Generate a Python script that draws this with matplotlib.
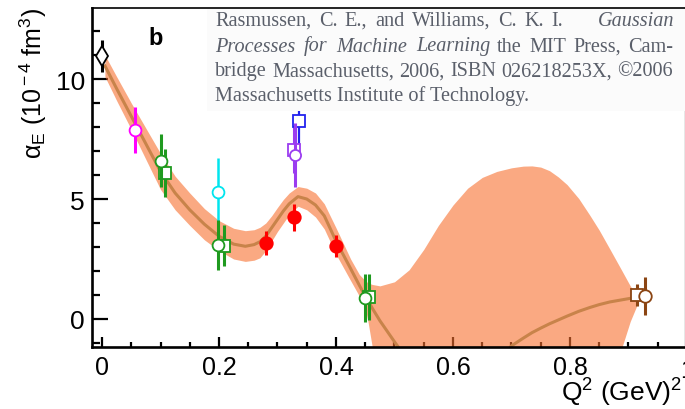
"""
alpha_E(Q^2) 그림 재현 — GP 밴드 + 측정점
"""
import matplotlib
matplotlib.use("Agg")
import matplotlib.pyplot as plt
from matplotlib.patches import Rectangle

plt.rcParams["font.family"] = ["Liberation Sans", "DejaVu Sans"]
plt.rcParams["mathtext.fontset"] = "custom"
plt.rcParams["mathtext.rm"] = "Liberation Sans"
plt.rcParams["mathtext.it"] = "Liberation Sans:italic"

# GP 곡선
q = [0.005, 0.025, 0.05, 0.075, 0.1, 0.125, 0.15, 0.175, 0.2, 0.225, 0.245, 0.26,
     0.27, 0.28, 0.29, 0.3, 0.31, 0.32, 0.335, 0.35, 0.365, 0.38, 0.4, 0.425, 0.44,
     0.45, 0.455, 0.462, 0.475, 0.5, 0.525, 0.55, 0.575, 0.6, 0.625, 0.65, 0.675,
     0.7, 0.72, 0.735, 0.75, 0.765, 0.78, 0.795, 0.815, 0.834, 0.85, 0.868, 0.889,
     0.903, 0.915]
center = [10.55, 9.6, 8.45, 7.3, 6.15, 5.25, 4.55, 3.95, 3.45, 3.12, 3.03, 3.1,
          3.22, 3.45, 3.8, 4.15, 4.5, 4.8, 5.1, 5.0, 4.75, 4.3, 3.25, 2.1, 1.4,
          0.95, 0.75, 0.45, -0.07, -0.95, -1.8, -2.5, -3.0, -3.2, -3.0, -2.5, -1.85,
          -1.12, -0.8, -0.57, -0.38, -0.2, -0.04, 0.12, 0.32, 0.48, 0.6, 0.71, 0.8,
          0.86, 0.9]
upper = [11.0, 10.1, 9.0, 7.95, 6.9, 5.95, 5.25, 4.6, 4.1, 3.78, 3.68, 3.72,
         3.82, 4.0, 4.3, 4.65, 4.98, 5.25, 5.52, 5.45, 5.25, 4.8, 3.8, 2.5, 1.85,
         1.6, 1.5, 1.44, 1.38, 1.55, 2.05, 2.9, 3.9, 4.75, 5.45, 5.9, 6.15,
         6.3, 6.37, 6.38, 6.33, 6.18, 5.92, 5.6, 5.02, 4.32, 3.7, 2.92, 2.0,
         1.38, 0.95]
lower = [10.1, 9.1, 7.9, 6.65, 5.4, 4.55, 3.9, 3.3, 2.85, 2.5, 2.4, 2.45,
         2.55, 2.85, 3.25, 3.65, 4.0, 4.35, 4.7, 4.55, 4.25, 3.75, 2.7, 1.6, 0.95,
         0.45, -0.15, -1.17, -2.5, -4.0, -5.0, -5.6, -6.0, -6.0, -6.0, -5.8, -5.4,
         -5.0, -4.7, -4.4, -4.2, -3.9, -3.6, -3.4, -3.0, -2.6, -2.3, -1.9, -1.17,
         -0.1, 0.6]

# 측정점: (Q2, alpha, err)
dia_q, dia_a, dia_e = [0.0], [10.96], [0.65]
mag_q, mag_a, mag_e = [0.057], [7.87], [0.95]
cyan_q, cyan_a, cyan_e = [0.199], [5.3], [1.4]
gc_q, gc_a, gc_e = [0.1, 0.199, 0.449], [6.6, 3.08, 0.87], [1.1, 1.05, 1.0]
gs_q, gs_a, gs_e = [0.108, 0.209, 0.457], [6.07, 3.05, 0.92], [1.0, 0.85, 0.97]
red_q, red_a, red_e = [0.28, 0.329, 0.4], [3.17, 4.24, 3.05], [0.5, 0.56, 0.47]
ps_q, ps_a, ps_e = [0.329], [7.04], [0.95]
pc_q, pc_a, pc_e = [0.33], [6.83], [1.33]
bs_q, bs_a, bs_e = [0.337], [8.26], [1.0]
brs_q, brs_a, brs_e = [0.915], [1.0], [0.45]
brc_q, brc_a, brc_e = [0.928], [0.96], [0.78]

# 인용문: 줄마다 (글자, 기울임, 시작px, 끝px) 조각
cite = [[("Rasmussen, C. E., and Williams, C. K. I.", False, 215, 563),
         ("Gaussian", True, 598, 673)],
        [("Processes for Machine Learning", True, 215, 490),
         ("the MIT Press, Cam-", False, 497, 673)],
        [("bridge Massachusetts, 2006, ISBN 026218253X, \u00a92006", False, 215, 673)],
        [("Massachusetts Institute of Technology.", False, 215, None)]]
cite_y = [26, 51.5, 76.5, 101.5]

W, H = 685, 410
fig = plt.figure(figsize=(W / 100, H / 100), dpi=100)
ax = fig.add_axes([92 / W, 1 - 348 / H, (W - 92) / W, (348 - 9) / H])
ax.set_axisbelow(True)

ax.fill_between(q, lower, upper, color="#f7702f", alpha=0.6, lw=0, zorder=1)
ax.plot(q, center, color="#c8834a", lw=2.2, zorder=2)


def pts(x, y, e, col, mk, ms=8.5, lw=2.2, z=4, fill="white"):
    ax.errorbar(x, y, yerr=e, fmt=mk, color=col, mfc=fill, mec=col, ms=ms,
                mew=1.3, elinewidth=lw, capsize=0, zorder=z)


pts(cyan_q, cyan_a, cyan_e, "#00e5ee", "o", lw=1.8)
pts(gs_q, gs_a, gs_e, "#1f9a1f", "s", ms=8)
pts(gc_q, gc_a, gc_e, "#1f9a1f", "o", z=5)
pts(mag_q, mag_a, mag_e, "#ff00ff", "o")
pts(red_q, red_a, red_e, "#ff0000", "o", ms=9, fill="#ff0000")
pts(bs_q, bs_a, bs_e, "#2222ee", "s", ms=8, lw=1.6)
pts(ps_q, ps_a, ps_e, "#9b3cf0", "s", ms=8)
pts(pc_q, pc_a, pc_e, "#9b3cf0", "o", ms=8, z=5)
pts(brs_q, brs_a, brs_e, "#8b4513", "s", ms=8)
pts(brc_q, brc_a, brc_e, "#8b4513", "o", ms=9, z=5)
pts(dia_q, dia_a, dia_e, "black", "d", ms=10, z=6)

ax.set_xlim(-0.0171, 0.9966)
ax.set_ylim(-1.167, 12.96)
ax.set_xticks([0, 0.2, 0.4, 0.6, 0.8])
ax.set_xticklabels(["0", "0.2", "0.4", "0.6", "0.8"])
ax.set_xticks([i * 0.05 for i in range(20)], minor=True)
ax.set_yticks([0, 5, 10])
ax.set_yticks(list(range(-1, 13)), minor=True)
ax.tick_params(which="both", direction="in", width=1.6, colors="black")
ax.tick_params(axis="x", which="major", length=7.5, labelsize=18, pad=6)
ax.tick_params(axis="x", which="minor", length=3.8)
ax.tick_params(axis="y", which="major", length=11.5, labelsize=19, pad=5)
ax.tick_params(axis="y", which="minor", length=5.8)
for s in ("left", "bottom"):
    ax.spines[s].set_linewidth(1.9)
ax.spines["top"].set_linewidth(1.2)
ax.spines["right"].set_linewidth(1.0)
ax.spines["right"].set_color("#888888")

# 잘린 "1" 눈금 라벨 (원본도 가장자리에서 잘림)
fig.text(687 / W, 1 - 359 / H, "1", fontsize=18, ha="center", va="top")

fig.text(33 / W, 1 - 8 / H, "\u03b1$_{\\rm E}$ (10$^{\\rm -4}$ fm$^{\\rm 3}$)",
         rotation=90, ha="center", va="top", fontsize=18)
fig.text(682 / W, 1 - 402 / H, r"Q$^{\rm 2}$ (GeV)$^{\rm 2}$",
         ha="right", va="baseline", fontsize=19)
fig.text(156 / W, 1 - 45 / H, "b", fontsize=17, fontweight="bold",
         ha="center", va="baseline")

# 인용 박스 — 3번째 줄 폭(458px)에 맞춰 글자 크기, 나머지는 단어 간격으로 양쪽 정렬
fig.add_artist(Rectangle((207 / W, 1 - 112 / H), (W - 207) / W, 102 / H,
                         transform=fig.transFigure, facecolor="#fbfbfb",
                         edgecolor="none", zorder=10))
serif = ["Liberation Serif", "DejaVu Serif"]
tc = "#5a5f6a"
rend = fig.canvas.get_renderer()
probe = fig.text(0, 0, cite[2][0][0], fontsize=15, family=serif)
fs = 15 * 458 / probe.get_window_extent(rend).width
probe.remove()


def width(s, italic):
    t = fig.text(0, 0, s, fontsize=fs, family=serif, style="italic" if italic else "normal")
    w = t.get_window_extent(rend).width
    t.remove()
    return w


for (pieces, yp) in zip(cite, cite_y):
    y = 1 - yp / H
    for s, italic, x0, x1 in pieces:
        st = "italic" if italic else "normal"
        words = s.split(" ")
        if x1 is None or len(words) == 1:
            fig.text(x0 / W, y, s, fontsize=fs, family=serif, style=st, color=tc,
                     ha="left", va="baseline", zorder=11)
            continue
        ws = [width(w, italic) for w in words]
        gap = (x1 - x0 - sum(ws)) / (len(words) - 1)
        x = x0
        for w, wd in zip(words, ws):
            fig.text(x / W, y, w, fontsize=fs, family=serif, style=st, color=tc,
                     ha="left", va="baseline", zorder=11)
            x += wd + gap

fig.savefig("out.png", dpi=100)
